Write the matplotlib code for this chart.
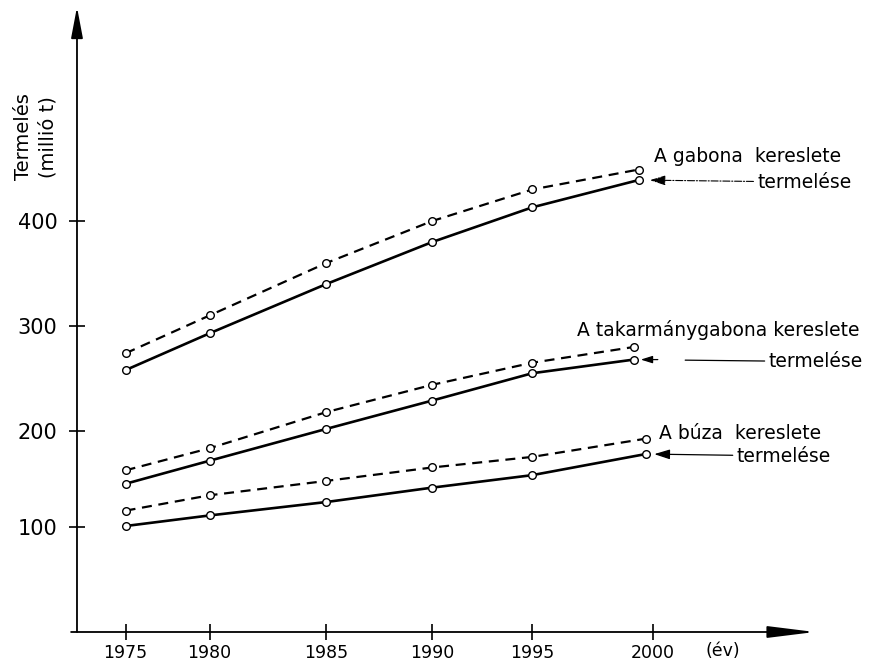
import matplotlib
matplotlib.use("Agg")
import matplotlib.pyplot as plt
import numpy as np

# years of the points; the last point of each pair sits a little left of the 2000 tick
gabona_years = [1975, 1980, 1985, 1990, 1995, 1999.4]
takarmany_years = [1975, 1980, 1985, 1990, 1995, 1999.2]
buza_years = [1975, 1980, 1985, 1990, 1995, 1999.7]

# million tonnes
gabona_kereslet = [274, 310, 360, 400, 430, 449]
gabona_termeles = [258, 293, 340, 380, 413, 439]
takarmany_kereslet = [159, 182, 218, 244, 265, 280]
takarmany_termeles = [145, 169, 202, 229, 255, 268]
buza_kereslet = [117, 133, 148, 162, 173, 192]
buza_termeles = [101, 112, 126, 141, 154, 176]

X_TICKS = [1975, 1980, 1985, 1990, 1995, 2000]
Y_TICKS = [100, 200, 300, 400]

# the original axes are hand drawn and not evenly spaced,
# so the scales follow the drawing's own spacing
X_KNOTS = [1950, 1975, 1980, 1985, 1990, 1995, 2000, 2030]
X_DRAWN = [-300, 125, 209, 326, 432, 532, 653, 1379]
Y_KNOTS = [-100, 100, 200, 300, 400, 700]
Y_DRAWN = [-719, -527, -431, -326, -221, 94]


def x_fwd(v):
    return np.interp(v, X_KNOTS, X_DRAWN)


def x_inv(p):
    return np.interp(p, X_DRAWN, X_KNOTS)


def y_fwd(v):
    return np.interp(v, Y_KNOTS, Y_DRAWN)


def y_inv(p):
    return np.interp(p, Y_DRAWN, Y_KNOTS)


fig = plt.figure(figsize=(8.88, 6.68), dpi=100)
ax = fig.add_axes([0.0867, 0.0539, 0.831, 0.9356])
ax.set_xscale("function", functions=(x_fwd, x_inv))
ax.set_yscale("function", functions=(y_fwd, y_inv))
ax.set_xlim(1972.14, 2006.69)
ax.set_ylim(-9.4, 603.8)

for s in ax.spines.values():
    s.set_visible(False)

# axis lines with arrow heads
ax.annotate("", xy=(1, 0), xytext=(-0.008, 0), xycoords="axes fraction",
            arrowprops=dict(arrowstyle="-|>,head_length=2.9,head_width=0.36",
                            color="black", lw=1.3, shrinkA=0, shrinkB=0))
ax.annotate("", xy=(0, 1), xytext=(0, 0), xycoords="axes fraction",
            arrowprops=dict(arrowstyle="-|>,head_length=1.9,head_width=0.36",
                            color="black", lw=1.3, shrinkA=0, shrinkB=0))

ax.set_xticks(X_TICKS)
ax.set_xticklabels([str(y) for y in X_TICKS])
ax.set_yticks(Y_TICKS)
ax.set_yticklabels([str(v) for v in Y_TICKS])
ax.xaxis.set_minor_locator(matplotlib.ticker.NullLocator())
ax.yaxis.set_minor_locator(matplotlib.ticker.NullLocator())
ax.tick_params(axis="both", direction="inout", length=12, width=1.2, color="black")
ax.tick_params(axis="x", labelsize=12.5, pad=3)
ax.tick_params(axis="y", labelsize=15, pad=8)

ax.text(2002.9, -0.03, "(év)", transform=ax.get_xaxis_transform(),
        ha="center", va="center", fontsize=12.5)
fig.text(0.0405, 0.795, "Termelés\n(millió t)", rotation=90, ha="center",
         va="center", fontsize=14, linespacing=1.4)

series = [
    (gabona_years, gabona_kereslet, gabona_termeles),
    (takarmany_years, takarmany_kereslet, takarmany_termeles),
    (buza_years, buza_kereslet, buza_termeles),
]
for yrs, dem, prod in series:
    ax.plot(yrs, dem, color="black", lw=1.6, dashes=(4.5, 3), marker="o",
            ms=5.5, mfc="white", mec="black", mew=1.0, clip_on=False)
    ax.plot(yrs, prod, color="black", lw=1.9, marker="o",
            ms=5.5, mfc="white", mec="black", mew=1.0, clip_on=False)

fs = 13.5
# gabona
ax.annotate("A gabona  kereslete", xy=(gabona_years[-1], gabona_kereslet[-1]),
            xytext=(15, 13), textcoords="offset pixels", ha="left", va="center",
            fontsize=fs)
ax.annotate("termelése", xy=(gabona_years[-1], gabona_termeles[-1]),
            xytext=(119, -2), textcoords="offset pixels", ha="left", va="center",
            fontsize=fs,
            arrowprops=dict(arrowstyle="-|>,head_length=0.7,head_width=0.22",
                            lw=0.8, linestyle="-.", color="black",
                            shrinkA=1, shrinkB=8))
# takarmanygabona
ax.annotate("A takarmánygabona kereslete",
            xy=(takarmany_years[-1], takarmany_kereslet[-1]),
            xytext=(-57, 17), textcoords="offset pixels", ha="left", va="center",
            fontsize=fs)
ax.annotate("termelése", xy=(takarmany_years[-1], takarmany_termeles[-1]),
            xytext=(135, -2), textcoords="offset pixels", ha="left", va="center",
            fontsize=fs,
            arrowprops=dict(arrowstyle="-", lw=0.9, color="black",
                            shrinkA=1, shrinkB=37))
ax.annotate("", xy=(takarmany_years[-1], takarmany_termeles[-1]),
            xytext=(24, 0), textcoords="offset pixels",
            arrowprops=dict(arrowstyle="-|>,head_length=0.7,head_width=0.22",
                            lw=0.9, color="black", shrinkA=0, shrinkB=5))
# buza
ax.annotate("A búza  kereslete", xy=(buza_years[-1], buza_kereslet[-1]),
            xytext=(13, 5), textcoords="offset pixels", ha="left", va="center",
            fontsize=fs)
ax.annotate("termelése", xy=(buza_years[-1], buza_termeles[-1]),
            xytext=(91, -2), textcoords="offset pixels", ha="left", va="center",
            fontsize=fs,
            arrowprops=dict(arrowstyle="-|>,head_length=0.7,head_width=0.22",
                            lw=0.9, color="black", shrinkA=1, shrinkB=6))

fig.savefig("out.png", dpi=100)
